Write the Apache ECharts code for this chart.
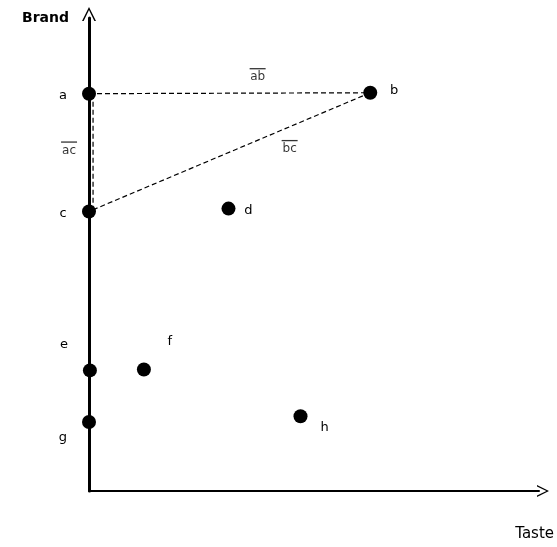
<!DOCTYPE html>
<html><head><meta charset="utf-8">
<script src="https://cdn.jsdelivr.net/npm/echarts@6/dist/echarts.min.js"></script>
<style>html,body{margin:0;padding:0;background:#fff}#c{width:557px;height:547px}</style>
</head><body><div id="c"></div>
<script>
// point names and positions (Taste, Brand) in chart units 0..100
const names = ['a','b','c','d','e','f','g','h'];
const taste = [0, 62.5, 0, 31.0, 0.2, 12.2, 0, 47.0];
const brand = [84.0, 84.2, 59.1, 59.7, 25.5, 25.7, 14.6, 15.8];
// where each label sits relative to its point
const labelSide = ['left','right','left','right','topLeft','topRight','bottomLeft','bottomRight'];
// dashed segments
const segAB = [[0, 84.0], [62.5, 84.2]];
const segBC = [[62.5, 84.2], [0, 59.1]];
const segAC = [[0.9, 84.0], [0.9, 59.1]];
const segNames = ['ab', 'bc', 'ac'];

const font = 'DejaVu Sans';
const offsets = {
  left: [-26, 2], right: [24, -2], topLeft: [-26, -26], topRight: [26, -28],
  bottomLeft: [-26, 16], bottomRight: [24, 11]
};
const pts = names.map((n, i) => ({
  value: [taste[i], brand[i]], name: n,
  label: { show: true, formatter: n, position: 'inside',
           offset: n === 'd' ? [20, 2] : offsets[labelSide[i]],
           color: '#000', fontSize: 13, fontFamily: font }
}));
const dashed = { color: '#000', width: 1.2, type: [5, 3] };
const segLine = (d) => ({ type: 'line', data: d, symbol: 'none', lineStyle: dashed,
  silent: true, clip: false, z: 1 });
const segLabel = (d, txt, off) => ({
  type: 'scatter', symbolSize: 0, clip: false, silent: true,
  data: [{ value: [(d[0][0] + d[1][0]) / 2, (d[0][1] + d[1][1]) / 2],
    label: { show: true, formatter: '{o| }\n{t|' + txt + '}', position: 'inside', offset: off,
      rich: {
        o: { width: 16, height: 1.3, lineHeight: 4, backgroundColor: '#000', fontSize: 1, align: 'center' },
        t: { color: '#000', fontSize: 12, fontFamily: font, lineHeight: 13, align: 'center' }
      } } }]
});
const chevron = 'path://M0,12 L6,0 L12,12 L10.6,12 L6,2.6 L1.4,12 Z';
const chart = echarts.init(document.getElementById('c'), null, { renderer: 'canvas' });
chart.setOption({
  backgroundColor: '#fff',
  animation: false,
  grid: { left: 89, right: 17, top: 18, bottom: 56 },
  xAxis: {
    type: 'value', min: 0, max: 100,
    name: 'Taste', nameLocation: 'end', nameGap: 15,
    nameTextStyle: { color: '#000', fontSize: 15, fontFamily: font, align: 'right',
      verticalAlign: 'top', padding: [36, 0, 0, 0] },
    axisLine: { lineStyle: { color: '#000', width: 2 }, symbol: ['none', chevron],
      symbolSize: [12, 14], symbolOffset: [0, 4] },
    axisTick: { show: false }, axisLabel: { show: false }, splitLine: { show: false }
  },
  yAxis: {
    type: 'value', min: 0, max: 100,
    name: 'Brand', nameLocation: 'end', nameGap: 0,
    nameTextStyle: { color: '#000', fontSize: 14, fontWeight: 'bold', fontFamily: font,
      align: 'right', verticalAlign: 'middle', padding: [0, 20, 0, 0] },
    axisLine: { lineStyle: { color: '#000', width: 3 }, symbol: ['none', chevron],
      symbolSize: [14, 14], symbolOffset: [0, 4] },
    axisTick: { show: false }, axisLabel: { show: false }, splitLine: { show: false }
  },
  series: [
    segLine(segAB), segLine(segBC), segLine(segAC),
    segLabel(segAB, segNames[0], [28, -18]),
    segLabel(segBC, segNames[1], [60, -5]),
    segLabel(segAC, segNames[2], [-24, -4]),
    { type: 'scatter', data: pts, symbolSize: 14, clip: false, z: 5,
      itemStyle: { color: '#000', opacity: 1 } }
  ]
});
</script></body></html>
